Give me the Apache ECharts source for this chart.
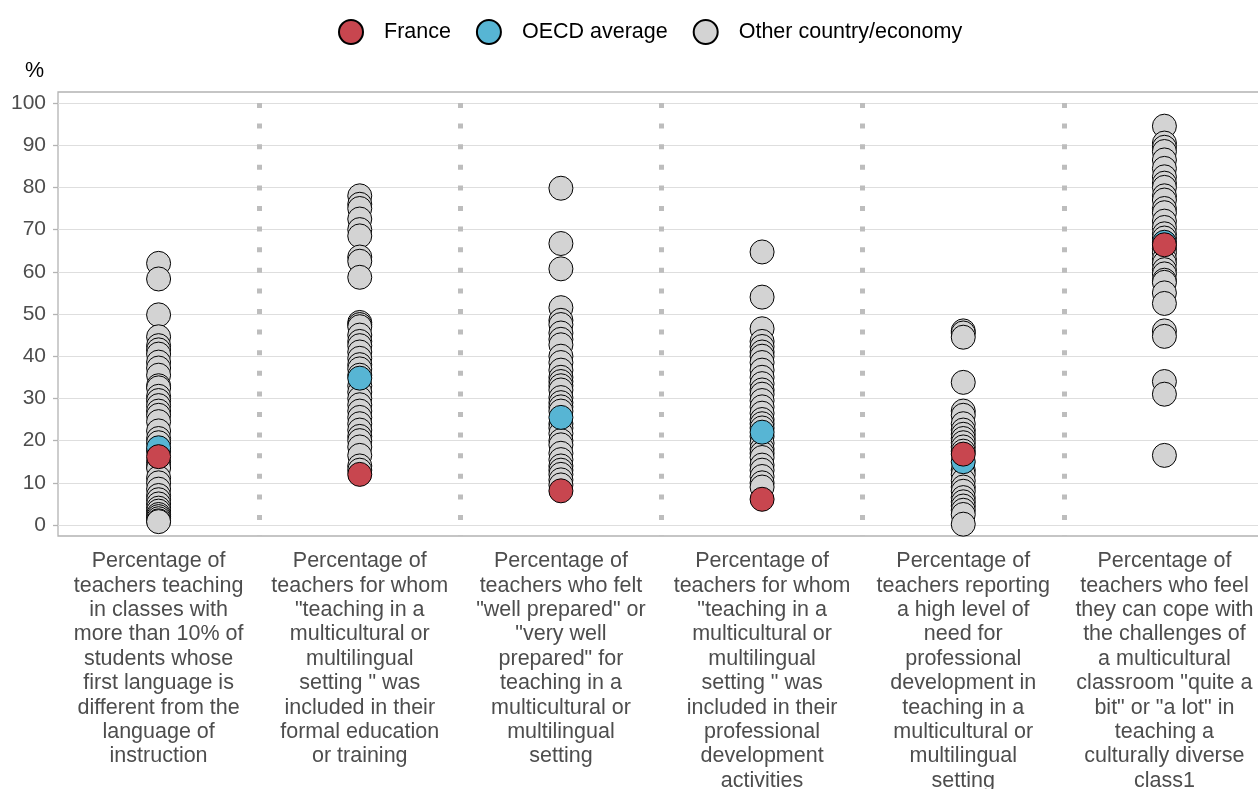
<!DOCTYPE html>
<html>
<head>
<meta charset="utf-8">
<script src="https://cdn.jsdelivr.net/npm/echarts@6/dist/echarts.min.js"></script>
<style>
html,body{margin:0;padding:0;background:#fff;}
#chart{width:1258px;height:789px;}
</style>
</head>
<body>
<div id="chart"></div>
<script>
var categories = [
  'Percentage of\nteachers teaching\nin classes with\nmore than 10% of\nstudents whose\nfirst language is\ndifferent from the\nlanguage of\ninstruction',
  'Percentage of\nteachers for whom\n"teaching in a\nmulticultural or\nmultilingual\nsetting " was\nincluded in their\nformal education\nor training',
  'Percentage of\nteachers who felt\n"well prepared" or\n"very well\nprepared" for\nteaching in a\nmulticultural or\nmultilingual\nsetting',
  'Percentage of\nteachers for whom\n"teaching in a\nmulticultural or\nmultilingual\nsetting " was\nincluded in their\nprofessional\ndevelopment\nactivities',
  'Percentage of\nteachers reporting\na high level of\nneed for\nprofessional\ndevelopment in\nteaching in a\nmulticultural or\nmultilingual\nsetting',
  'Percentage of\nteachers who feel\nthey can cope with\nthe challenges of\na multicultural\nclassroom "quite a\nbit" or "a lot" in\nteaching a\nculturally diverse\nclass1'
];
var yTicks = [0, 10, 20, 30, 40, 50, 60, 70, 80, 90, 100];

var franceValues = [16.2, 12.0, 8.1, 6.1, 16.8, 66.4];
var oecdValues = [18.3, 34.8, 25.5, 22.0, 15.0, 67.0];

var others1 = [62, 58.3, 49.8, 44.6, 42.5, 41.5, 40.5, 38.6, 37.2, 35.5, 33, 32.5, 30.5, 29.5, 28.3, 27, 26, 24.5, 22.3, 20.5, 19.5, 17.5, 15, 14, 13.5, 11.2, 10, 8.5, 7, 6, 5, 4, 3.3, 2.5, 2, 1.5, 1, 0.8];
var others2 = [78, 76, 75, 72.5, 70, 68.5, 63.5, 62.5, 58.7, 48, 47.5, 47, 45, 43.5, 42.5, 41, 39.5, 38, 37, 35.5, 33, 31.5, 30, 28.5, 27, 25.5, 24, 22.5, 21, 20, 18.5, 16.5, 14, 13];
var others3 = [79.8, 66.7, 60.7, 51.5, 48.5, 47.5, 45.5, 44, 42.7, 40, 38.5, 36.7, 35, 34, 33, 32, 30.2, 29, 28, 27, 24, 23, 21.7, 20, 19, 17, 15.5, 14, 13, 12, 10.7, 9.5];
var others4 = [64.7, 54, 46.5, 43.5, 42.3, 41, 40, 38.5, 36.7, 35, 33.5, 32, 31, 29.5, 28, 26.5, 25, 24, 23, 21, 19.4, 18, 17, 16, 14.2, 13, 11.5, 10, 9];
var others5 = [46, 45.5, 44.5, 33.8, 27, 26, 24, 22.5, 21.5, 20.5, 19.5, 18.5, 17.5, 13, 12, 10.5, 9, 8, 6.5, 5.5, 4.5, 3.5, 2.5, 0.2];
var others6 = [94.5, 90.5, 89.5, 88.5, 86.5, 84.5, 82.5, 81, 80, 78, 77, 75, 74, 72, 70.5, 69, 68, 65.5, 64.5, 63, 62, 60.5, 59.5, 58, 57.5, 55, 52.5, 46, 44.7, 34, 31, 16.5];

var othersAll = [others1, others2, others3, others4, others5, others6];
var otherData = [];
othersAll.forEach(function (arr, i) {
  arr.forEach(function (v) { otherData.push([i, v]); });
});
var franceData = franceValues.map(function (v, i) { return [i, v]; });
var oecdData = oecdValues.map(function (v, i) { return [i, v]; });

var FONT = '"Liberation Sans", Arial, sans-serif';
var chart = echarts.init(document.getElementById('chart'), null, {renderer: 'canvas'});
chart.setOption({
  animation: false,
  backgroundColor: '#fff',
  textStyle: {fontFamily: FONT},
  legend: {
    top: 14,
    left: 333,
    itemWidth: 24,
    itemHeight: 24,
    itemGap: 25,
    icon: 'circle',
    data: ['France', 'OECD average', 'Other country/economy'],
    textStyle: {fontFamily: FONT, fontSize: 21.5, color: '#000', padding: [0, 0, 0, 16]}
  },
  grid: {
    left: 58, right: -7, top: 92, bottom: 253,
    outerBoundsMode: 'none',
    containLabel: false,
    show: true, borderColor: '#b3b3b3', borderWidth: 1.3, backgroundColor: 'transparent'
  },
  xAxis: {
    type: 'category',
    data: categories,
    boundaryGap: true,
    axisLine: {show: false},
    axisTick: {show: false},
    axisLabel: {
      interval: 0, margin: 13, fontFamily: FONT, fontSize: 21.5, lineHeight: 24.4,
      color: '#4d4d4d', align: 'center'
    },
    splitLine: {
      show: true, interval: 0, showMinLine: false, showMaxLine: false,
      lineStyle: {color: '#bdbdbd', width: 5, type: [5, 15.6], dashOffset: 9.6}
    }
  },
  yAxis: {
    type: 'value',
    min: -2.6,
    max: 102.6,
    name: '%',
    nameLocation: 'end',
    nameGap: 10,
    nameTextStyle: {fontFamily: FONT, fontSize: 21.5, color: '#000', align: 'right', padding: [0, 14, 0, 0]},
    axisLine: {show: false},
    axisTick: {show: true, length: 5, customValues: yTicks, lineStyle: {color: '#b3b3b3', width: 1.3}},
    axisLabel: {customValues: yTicks, margin: 12, fontFamily: FONT, fontSize: 21, color: '#4d4d4d'},
    splitLine: {show: true, lineStyle: {color: '#dedede', width: 1.2}}
  },
  series: [
    {
      name: 'Other country/economy', type: 'scatter', data: otherData, symbol: 'circle', symbolSize: 24, clip: false, z: 2,
      itemStyle: {color: '#d3d3d3', borderColor: '#000', borderWidth: 1, opacity: 1}
    },
    {
      name: 'OECD average', type: 'scatter', data: oecdData, symbol: 'circle', symbolSize: 24, clip: false, z: 3,
      itemStyle: {color: '#57b5d4', borderColor: '#000', borderWidth: 1, opacity: 1}
    },
    {
      name: 'France', type: 'scatter', data: franceData, symbol: 'circle', symbolSize: 24, clip: false, z: 4,
      itemStyle: {color: '#c8464f', borderColor: '#000', borderWidth: 1, opacity: 1}
    }
  ]
});
</script>
</body>
</html>
